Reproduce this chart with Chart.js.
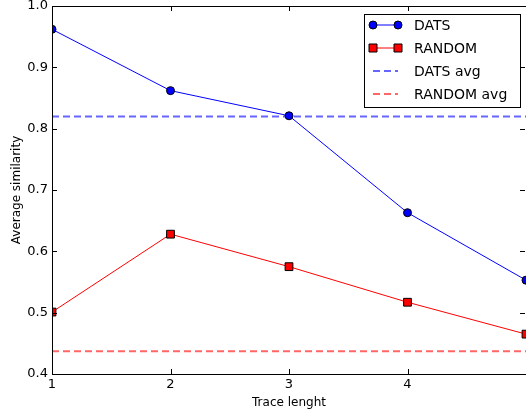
<!DOCTYPE html>
<html>
<head>
<meta charset="utf-8">
<script src="https://cdn.jsdelivr.net/npm/chart.js@4"></script>
<style>
  html, body { margin: 0; padding: 0; background: #fff; }
  #wrap { width: 526px; height: 418px; position: relative; }
</style>
</head>
<body>
<div id="wrap"><canvas id="c"></canvas></div>
<script>
const traceLen = [1, 2, 3, 4, 5];
const datsVals = [0.962, 0.862, 0.821, 0.663, 0.553];
const randomVals = [0.501, 0.628, 0.575, 0.517, 0.465];
const datsAvg = 0.820;
const randomAvg = 0.437;
const xTicks = [1, 2, 3, 4];
const yTicks = [0.4, 0.5, 0.6, 0.7, 0.8, 0.9, 1.0];

const FONT = 'DejaVu Sans';

const pts = vals => vals.map((v, i) => ({ x: traceLen[i], y: v }));
const flat = v => [{ x: traceLen[0], y: v }, { x: traceLen[traceLen.length - 1], y: v }];

// frame, inward ticks, labels and legend drawn like matplotlib classic
const mplFrame = {
    id: 'mplFrame',
    afterDraw(chart) {
        const { ctx, chartArea: a, scales: { x, y } } = chart;
        ctx.save();
        ctx.strokeStyle = '#000';
        ctx.lineWidth = 1;
        ctx.strokeRect(a.left + 0.5, a.top + 0.5, a.right - a.left, a.bottom - a.top);
        ctx.beginPath();
        const tl = 5;
        xTicks.concat([5]).forEach(t => {
            const px = Math.round(x.getPixelForValue(t)) + 0.5;
            ctx.moveTo(px, a.bottom); ctx.lineTo(px, a.bottom - tl);
            ctx.moveTo(px, a.top); ctx.lineTo(px, a.top + tl);
        });
        yTicks.forEach(t => {
            const py = Math.round(y.getPixelForValue(t)) + 0.5;
            ctx.moveTo(a.left, py); ctx.lineTo(a.left + tl, py);
            ctx.moveTo(a.right - 1, py); ctx.lineTo(a.right - 1 - tl, py);
        });
        ctx.stroke();

        // tick labels
        ctx.fillStyle = '#000';
        ctx.font = '13px ' + FONT;
        ctx.textAlign = 'center';
        ctx.textBaseline = 'top';
        xTicks.forEach(t => ctx.fillText(String(t), x.getPixelForValue(t), a.bottom + 4));
        ctx.textAlign = 'right';
        ctx.textBaseline = 'middle';
        yTicks.forEach(t => ctx.fillText(t.toFixed(1), a.left - 4, y.getPixelForValue(t)));

        // axis titles
        ctx.font = '12px ' + FONT;
        ctx.textAlign = 'center';
        ctx.textBaseline = 'middle';
        ctx.fillText('Trace lenght', (a.left + a.right) / 2, 403);
        ctx.save();
        ctx.translate(17, (a.top + a.bottom) / 2);
        ctx.rotate(-Math.PI / 2);
        ctx.fillText('Average similarity', 0, 0);
        ctx.restore();

        // legend
        const bx = 364.5, by = 14.5, bw = 156, bh = 93;
        ctx.fillStyle = '#fff';
        ctx.fillRect(bx, by, bw, bh);
        ctx.strokeStyle = '#000';
        ctx.lineWidth = 1;
        ctx.strokeRect(bx, by, bw, bh);
        const rows = [25, 48, 71, 94];
        const lx1 = 373, lx2 = 398;
        ctx.font = '14px ' + FONT;
        ctx.textAlign = 'left';
        ctx.textBaseline = 'middle';
        chart.data.datasets.forEach((ds, i) => {
            const ry = rows[i];
            ctx.save();
            ctx.strokeStyle = ds.borderColor;
            ctx.lineWidth = ds.borderWidth;
            ctx.setLineDash(ds.borderDash || []);
            ctx.beginPath();
            ctx.moveTo(lx1, ry); ctx.lineTo(lx2, ry);
            ctx.stroke();
            ctx.restore();
            if (ds.pointRadius > 0) {
                [lx1, lx2].forEach(px => {
                    ctx.fillStyle = ds.pointBackgroundColor;
                    ctx.strokeStyle = '#000';
                    ctx.lineWidth = 1;
                    ctx.beginPath();
                    if (ds.pointStyle === 'rect') {
                        ctx.rect(px - 4, ry - 4, 8, 8);
                    } else {
                        ctx.arc(px, ry, 4, 0, Math.PI * 2);
                    }
                    ctx.fill();
                    ctx.stroke();
                });
            }
            ctx.fillStyle = '#000';
            ctx.fillText(ds.label, 414, ry + 1);
        });
        ctx.restore();
    }
};

new Chart(document.getElementById('c'), {
    type: 'line',
    data: {
        datasets: [
            { label: 'DATS', data: pts(datsVals), borderColor: '#0000ff', borderWidth: 1,
              pointStyle: 'circle', pointRadius: 4, pointBackgroundColor: '#0000ff',
              pointBorderColor: '#000', pointBorderWidth: 1 },
            { label: 'RANDOM', data: pts(randomVals), borderColor: '#ff0000', borderWidth: 1,
              pointStyle: 'rect', pointRadius: 5.5, pointBackgroundColor: '#ff0000',
              pointBorderColor: '#000', pointBorderWidth: 1 },
            { label: 'DATS avg', data: flat(datsAvg), borderColor: 'rgba(0,0,255,0.6)', borderWidth: 2,
              borderDash: [7, 4], pointRadius: 0 },
            { label: 'RANDOM avg', data: flat(randomAvg), borderColor: 'rgba(255,0,0,0.6)', borderWidth: 2,
              borderDash: [7, 4], pointRadius: 0 }
        ]
    },
    options: {
        responsive: true,
        maintainAspectRatio: false,
        animation: false,
        layout: { autoPadding: false, padding: { top: 6, right: 0, left: 0, bottom: 0 } },
        plugins: { legend: { display: false }, tooltip: { enabled: false } },
        elements: { line: { tension: 0 } },
        scales: {
            x: {
                type: 'linear', min: 1, max: 5,
                grid: { display: false }, border: { display: false },
                ticks: { display: false },
                afterFit: s => { s.height = 44; }
            },
            y: {
                min: 0.4, max: 1.0,
                grid: { display: false }, border: { display: false },
                ticks: { display: false },
                afterFit: s => { s.width = 52; }
            }
        }
    },
    plugins: [mplFrame]
});
</script>
</body>
</html>
